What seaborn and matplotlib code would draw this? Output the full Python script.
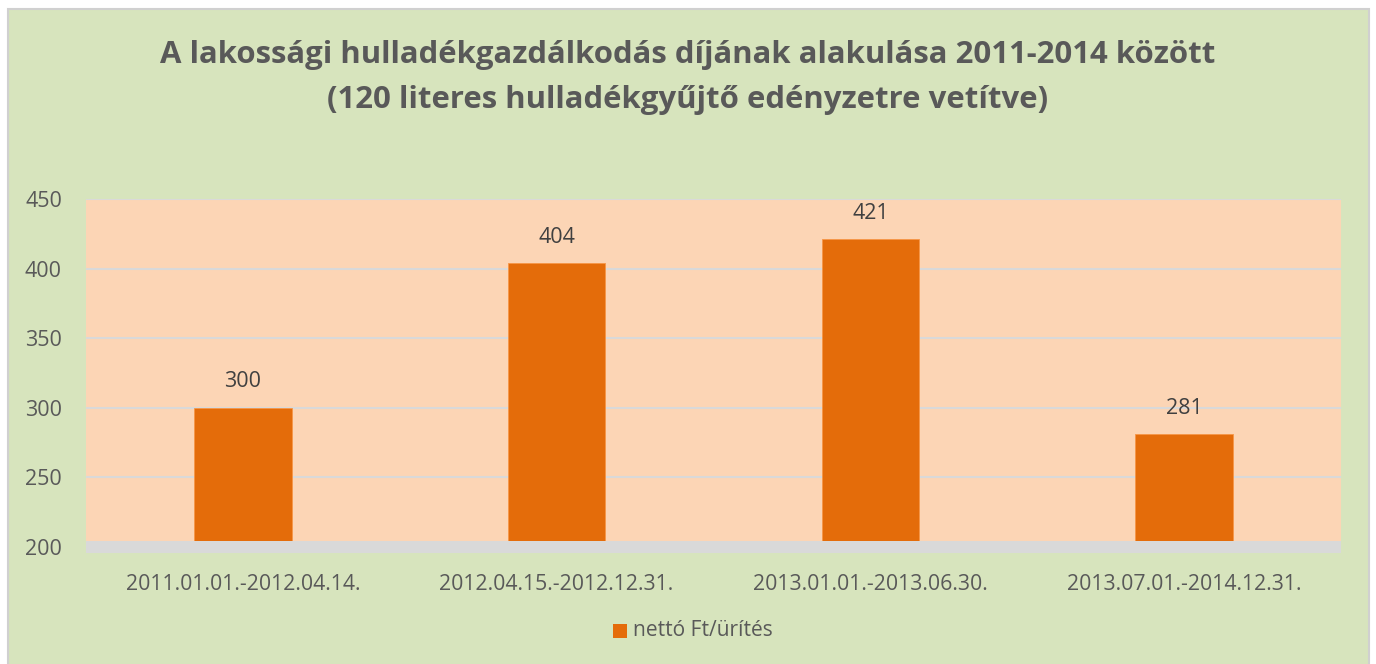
import matplotlib
matplotlib.use("Agg")
import matplotlib.pyplot as plt
import pandas as pd
import seaborn as sns
from matplotlib.patches import Rectangle

# data
periods = ["2011.01.01.-2012.04.14.", "2012.04.15.-2012.12.31.",
           "2013.01.01.-2013.06.30.", "2013.07.01.-2014.12.31."]
fees = [300, 404, 421, 281]
series_name = "nettó Ft/ürítés"
y_ticks = [200, 250, 300, 350, 400, 450]

df = pd.DataFrame({"period": periods, "fee": fees})

sns.set_style("white")
plt.rcParams["font.family"] = ["Open Sans", "DejaVu Sans"]

W, H = 1376, 664
fig = plt.figure(figsize=(W / 100, H / 100), dpi=100, facecolor="white")

# green chart area with thin grey frame
fig.patches.append(Rectangle((8 / W, -0.01), (1369 - 8) / W, 1 - 9 / H + 0.01,
                             transform=fig.transFigure, facecolor="#d7e4bd",
                             edgecolor="#d0d0d0", linewidth=1.5, zorder=-5))

ax_left, ax_right, ax_top, ax_bot = 86, 1341, 199, 553
ax = fig.add_axes([ax_left / W, 1 - ax_bot / H, (ax_right - ax_left) / W, (ax_bot - ax_top) / H])
ax.set_facecolor("none")

ymin, ymax = 195.7, 450
floor_top = 204.3

# peach wall + grey floor
ax.add_patch(Rectangle((0, floor_top), 1, ymax - floor_top, transform=ax.get_yaxis_transform(),
                       facecolor="#fcd5b5", edgecolor="none", zorder=0))
for t in y_ticks[1:]:
    ax.axhline(t, color="#d9d9d9", linewidth=1.5, zorder=1)

sns.barplot(data=df, x="period", y="fee", color="#e46c0a", width=0.31,
            saturation=1, ax=ax, zorder=2, edgecolor="#f79646", linewidth=0.6)

ax.add_patch(Rectangle((0, ymin), 1, floor_top - ymin, transform=ax.get_yaxis_transform(),
                       facecolor="#d9d9d9", edgecolor="none", zorder=3))

for i, v in enumerate(fees):
    ax.text(i, v + 11, str(v), ha="center", va="bottom", fontsize=15.5, color="#404040")

ax.set_xlim(-0.5, 3.5)
ax.set_ylim(ymin, ymax)
ax.set_yticks(y_ticks)
ax.set_yticklabels([str(t) for t in y_ticks])
ax.tick_params(axis="y", length=0, pad=17.3, labelsize=15.5, labelcolor="#595959")
ax.tick_params(axis="x", length=0, pad=15, labelsize=15.3, labelcolor="#595959")
ax.set_xlabel("")
ax.set_ylabel("")
for s in ax.spines.values():
    s.set_visible(False)

fig.text(0.5, 1 - 55 / H, "A lakossági hulladékgazdálkodás díjának alakulása 2011-2014 között",
         ha="center", va="center", fontsize=22.4, fontweight="bold", color="#595959")
fig.text(0.5, 1 - 100 / H, "(120 literes hulladékgyűjtő edényzetre vetítve)",
         ha="center", va="center", fontsize=22.4, fontweight="bold", color="#595959")

# legend
fig.patches.append(Rectangle((613 / W, 1 - 638 / H), 14 / W, 14 / H, transform=fig.transFigure,
                             facecolor="#e46c0a", edgecolor="none", zorder=2))
fig.text(633 / W, 1 - 630 / H, series_name, ha="left", va="center", fontsize=15.1, color="#595959")

fig.savefig("out.png", dpi=100, facecolor="white")
